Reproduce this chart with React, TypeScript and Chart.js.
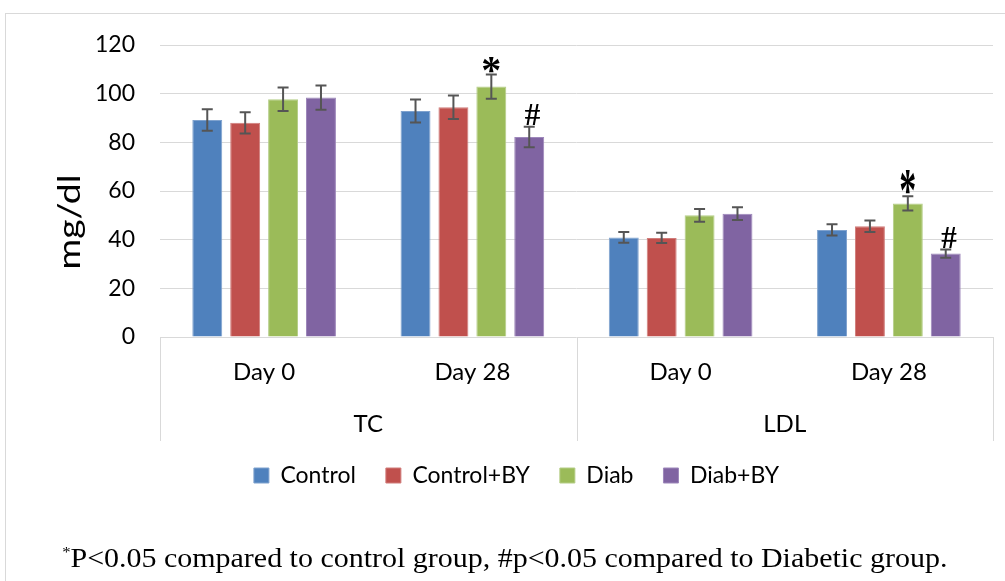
import React, { useEffect, useRef } from 'react';
import { Chart, registerables } from 'chart.js';

Chart.register(...registerables);

// ---- data ----
const dayLabels = ['Day 0', 'Day 28', 'Day 0', 'Day 28'];
const groupLabels = ['TC', 'LDL'];
const seriesNames = ['Control', 'Control+BY', 'Diab', 'Diab+BY'];
const controlValues = [89.2, 92.9, 40.9, 44.0];
const controlBYValues = [88.0, 94.4, 40.7, 45.5];
const diabValues = [97.7, 102.9, 50.0, 54.9];
const diabBYValues = [98.4, 82.2, 50.7, 34.3];
const controlErr = [4.4, 4.7, 2.2, 2.3];
const controlBYErr = [4.4, 4.8, 2.1, 2.4];
const diabErr = [4.8, 5.0, 2.6, 2.9];
const diabBYErr = [5.0, 4.2, 2.6, 1.7];
const yMin = 0;
const yMax = 120;
const yStep = 20;
const yTitle = 'mg/dl';
// significance marks: [series index, category index, symbol]
const marks: [number, number, string][] = [
  [2, 1, '*'],
  [3, 1, '#'],
  [2, 3, '*'],
  [3, 3, '#'],
];
const footnoteMain = 'P<0.05 compared to control group, #p<0.05 compared to Diabetic group.';

// ---- styles ----
const fills = ['#4F81BD', '#C0504D', '#9BBB59', '#8064A2'];
const edges = ['#7FA2CE', '#D07C7A', '#B4CD86', '#9D87BA'];
const gridColor = '#D9D9D9';
const errColor = '#555555';
// per-mark stretch (x, y), same order as marks
const markStretch: [number, number][] = [[1, 1], [1, 1], [0.85, 1.55], [1, 1]];

const seriesValues = [controlValues, controlBYValues, diabValues, diabBYValues];
const seriesErrs = [controlErr, controlBYErr, diabErr, diabBYErr];

const errorBarPlugin = {
  id: 'errorBars',
  afterDatasetsDraw(chart: any) {
    const ctx = chart.ctx;
    const y = chart.scales.y;
    ctx.save();
    ctx.strokeStyle = errColor;
    ctx.lineWidth = 2;
    chart.data.datasets.forEach((ds: any, i: number) => {
      const meta = chart.getDatasetMeta(i);
      meta.data.forEach((bar: any, j: number) => {
        const v = ds.data[j];
        const e = seriesErrs[i][j];
        const top = y.getPixelForValue(v + e);
        const bot = y.getPixelForValue(v - e);
        const x = bar.x;
        ctx.beginPath();
        ctx.moveTo(x, top);
        ctx.lineTo(x, bot);
        ctx.moveTo(x - 5.5, top);
        ctx.lineTo(x + 5.5, top);
        ctx.moveTo(x - 5.5, bot);
        ctx.lineTo(x + 5.5, bot);
        ctx.stroke();
      });
    });
    // significance marks
    ctx.fillStyle = '#000';
    ctx.textAlign = 'center';
    ctx.textBaseline = 'alphabetic';
    marks.forEach(([si, ci, sym], k) => {
      const bar = chart.getDatasetMeta(si).data[ci];
      const v = seriesValues[si][ci] + seriesErrs[si][ci];
      const top = y.getPixelForValue(v);
      ctx.font = sym === '*' ? 'bold 40px "Liberation Serif"' : '31px "Liberation Serif"';
      const m = ctx.measureText(sym);
      const [sx, sy] = markStretch[k] || [1, 1];
      ctx.save();
      ctx.translate(bar.x + (sym === '#' ? 3 : 0), top - 1.5);
      ctx.scale(sx, sy);
      ctx.fillText(sym, 0, -m.actualBoundingBoxDescent);
      if (sym === '#') ctx.fillText(sym, 0.6, -m.actualBoundingBoxDescent);
      ctx.restore();
    });
    ctx.restore();
  },
};

const framePlugin = {
  id: 'frame',
  afterDraw(chart: any) {
    const ctx = chart.ctx;
    const x = chart.scales.x;
    const area = chart.chartArea;
    ctx.save();
    ctx.strokeStyle = gridColor;
    ctx.lineWidth = 1;
    [-0.5, 1.5, 3.5].forEach((p) => {
      const px = Math.round(x.getPixelForValue(p)) + 0.5;
      ctx.beginPath();
      ctx.moveTo(px, area.bottom);
      ctx.lineTo(px, area.bottom + 104);
      ctx.stroke();
    });
    // y axis title
    ctx.fillStyle = '#000';
    ctx.font = '30px Lato';
    ctx.textAlign = 'center';
    ctx.textBaseline = 'middle';
    const w = ctx.measureText(yTitle).width;
    ctx.translate(70, 222);
    ctx.rotate(-Math.PI / 2);
    ctx.scale(95 / w, 1);
    ctx.fillText(yTitle, 0, 0);
    ctx.restore();
  },
};

export default function App() {
  const ref = useRef<HTMLCanvasElement | null>(null);
  useEffect(() => {
    if (!ref.current) return;
    Chart.defaults.font.family = 'Lato';
    Chart.defaults.color = '#000';
    const chart = new Chart(ref.current, {
      type: 'bar',
      data: {
        labels: dayLabels,
        datasets: seriesNames.map((name, i) => ({
          label: name,
          data: seriesValues[i],
          backgroundColor: fills[i],
          borderColor: edges[i],
          borderWidth: 1,
          categoryPercentage: 0.728,
          barPercentage: 0.79,
        })),
      },
      options: {
        animation: false,
        responsive: false,
        devicePixelRatio: 1,
        layout: { padding: { left: 40, right: 12, top: 45, bottom: 84 } },
        scales: {
          y: {
            min: yMin,
            max: yMax,
            ticks: { stepSize: yStep, padding: 25, font: { size: 23 }, color: '#000' },
            grid: { color: gridColor, lineWidth: 1, drawTicks: false },
            border: { display: false },
            afterFit: (s: any) => { s.width = 120; },
          },
          x: {
            position: 'bottom',
            weight: 0,
            grid: { display: false, drawTicks: false },
            border: { display: false },
            ticks: { padding: 21, font: { size: 24 }, color: '#000', maxRotation: 0 },
            afterFit: (s: any) => { s.height = 70; },
          },
          x2: {
            type: 'category',
            position: 'bottom',
            weight: 1,
            labels: groupLabels,
            grid: { display: false, drawTicks: false },
            border: { display: false },
            ticks: { padding: 3, font: { size: 24 }, color: '#000', maxRotation: 0 },
            afterFit: (s: any) => { s.height = 27; },
          },
        },
        plugins: {
          legend: {
            position: 'bottom',
            labels: { boxWidth: 15, boxHeight: 15, padding: 30, font: { size: 23 }, color: '#000' },
          },
          tooltip: { enabled: false },
        },
      },
      plugins: [errorBarPlugin, framePlugin],
    } as any);
    return () => chart.destroy();
  }, []);

  return (
    <div style={{ position: 'fixed', left: 0, top: 0, width: 1005, height: 581, overflow: 'hidden', background: '#fff' }}>
      <div style={{ position: 'absolute', left: 5, top: 13, width: 1100, height: 700, border: `1px solid ${gridColor}` }} />
      <canvas ref={ref} width={1005} height={581} style={{ position: 'absolute', left: 0, top: 0, width: 1005, height: 581 }} />
      <div
        style={{
          position: 'absolute',
          left: 0,
          top: 543,
          width: 1010,
          textAlign: 'center',
          fontFamily: '"Liberation Serif", serif',
          fontSize: 27,
          lineHeight: '30px',
          color: '#000',
          whiteSpace: 'nowrap',
        }}
      >
        <span style={{ display: 'inline-block', transform: 'scaleX(1.11)' }}>
          <span style={{ fontSize: 15, position: 'relative', top: -10 }}>*</span>
          {footnoteMain}
        </span>
      </div>
    </div>
  );
}
